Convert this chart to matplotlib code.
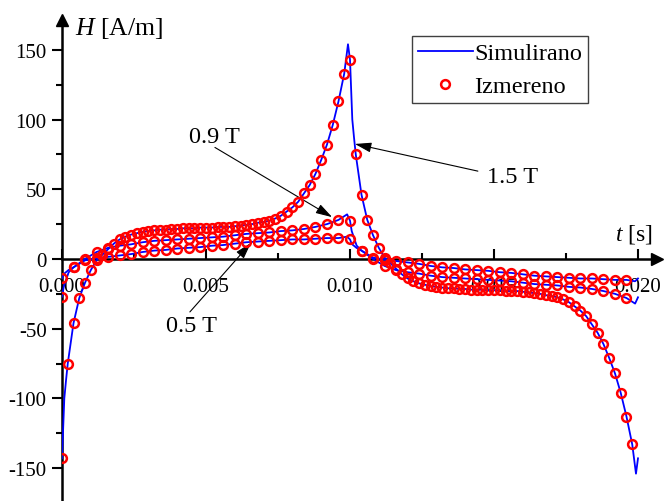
import numpy as np
import matplotlib
matplotlib.use("Agg")
import matplotlib.pyplot as plt

plt.rcParams['font.family'] = ['Liberation Serif', 'DejaVu Serif']
plt.rcParams['mathtext.fontset'] = 'custom'
plt.rcParams['mathtext.rm'] = 'Liberation Serif'
plt.rcParams['mathtext.it'] = 'Liberation Serif:italic'

# sampling steps of the measured points [s]
DT_15 = 0.0002
DT_LOW = 0.0004

# measured H [A/m], 1.5 T (one sample every 0.2 ms)
h15_meas = [-143, -75, -46, -28, -17, -8, -1, 3, 7, 11,
            14, 16, 17.5, 18.5, 19.5, 20, 20.5, 21, 21, 21.5,
            21.5, 22, 22, 22, 22.5, 22.5, 22.5, 23, 23, 23,
            23.5, 24, 24.5, 25, 26, 26.5, 27.5, 29, 31, 34,
            37, 41, 47, 53, 61, 71, 82, 96, 113, 133,
            143, 75, 46, 28, 17, 8, 1, -3, -7, -11,
            -14, -16, -17.5, -18.5, -19.5, -20, -20.5, -21, -21, -21.5,
            -21.5, -22, -22, -22, -22.5, -22.5, -22.5, -23, -23, -23,
            -23.5, -24, -24.5, -25, -26, -26.5, -27.5, -29, -31, -34,
            -37, -41, -47, -53, -61, -71, -82, -96, -113, -133]

# measured H [A/m], 0.9 T (one sample every 0.4 ms)
h09_meas = [-27, -6, 0, 5, 8, 9.5, 10.5, 12, 13, 13.5,
            14, 14.5, 15, 15.5, 16, 17, 18, 18.5, 19, 20,
            20.5, 21.5, 23, 25, 28, 27.5, 6, 0, -5, -8,
            -9.5, -10.5, -12, -13, -13.5, -14, -14.5, -15, -15.5, -16,
            -17, -18, -18.5, -19, -20, -20.5, -21.5, -23, -25, -28]

# measured H [A/m], 0.5 T
h05_meas = [-14, -6, -1, 0.5, 1.5, 2.5, 3.5, 5, 6, 6.5,
            7.5, 8, 8.5, 9.5, 10, 11, 12, 12.5, 13, 13.5,
            14, 14, 14.5, 15, 15, 14, 6, 1, -0.5, -1.5,
            -2.5, -3.5, -5, -6, -6.5, -7.5, -8, -8.5, -9.5, -10,
            -11, -12, -12.5, -13, -13.5, -14, -14, -14.5, -15, -15]

# extra simulated points around the switching peaks
t15_extra = [0.00008, 0.00014, 0.00993, 0.01008, 0.01014, 0.01993, 0.0200]
h15_extra = [-100, -87, 154, 100, 87, -154, -143]
t09_extra = [0.00006, 0.00023, 0.0099, 0.01006, 0.01023, 0.0199, 0.0200]
h09_extra = [-20, -9.6, 32, 20, 9.6, -32, -27.5]
t05_extra = [0.00006, 0.00023, 0.0099, 0.01006, 0.01023, 0.0199, 0.0200]
h05_extra = [-10.8, -7.9, 16, 10.8, 7.9, -16, -14]

curves = [
    (h15_meas, DT_15, t15_extra, h15_extra),
    (h09_meas, DT_LOW, t09_extra, h09_extra),
    (h05_meas, DT_LOW, t05_extra, h05_extra),
]

fig = plt.figure(figsize=(6.64, 5.02), dpi=100)
ax = fig.add_axes([62 / 664, 0, 595 / 664, 481 / 502])

for i, (h_meas, dt, t_ex, h_ex) in enumerate(curves):
    t_meas = np.arange(len(h_meas)) * dt
    t_sim = np.concatenate([t_meas, t_ex])
    h_sim = np.concatenate([h_meas, h_ex])
    order = np.argsort(t_sim)
    ax.plot(t_sim[order], h_sim[order], color='blue', lw=1.3, zorder=3,
            label='Simulirano' if i == 0 else None)
    ax.plot(t_meas, h_meas, linestyle='none', marker='o', mfc='none',
            mec='red', ms=6.3, mew=1.8, zorder=4,
            label='Izmereno' if i == 0 else None)

ax.set_xlim(0, 0.02066)
ax.set_ylim(-173.6, 171.4)

for s in ['top', 'right']:
    ax.spines[s].set_visible(False)
ax.spines['bottom'].set_position(('data', 0))
ax.spines['left'].set_linewidth(1.8)
ax.spines['bottom'].set_linewidth(1.8)

# axis arrow heads
ax.plot(1, 0, '>k', ms=8, transform=ax.get_yaxis_transform(), clip_on=False)
ax.plot(0, 1, '^k', ms=8, transform=ax.get_xaxis_transform(), clip_on=False)

ax.set_xticks([0, 0.005, 0.010, 0.015, 0.020])
ax.set_xticklabels(['0.000', '0.005', '0.010', '0.015', '0.020'])
ax.set_xticks([0.0025, 0.0075, 0.0125, 0.0175], minor=True)
ax.set_yticks([-150, -100, -50, 0, 50, 100, 150])
ax.set_yticklabels(['-150', '-100', '-50', '0', '50', '100', '150'])
ax.set_yticks([-125, -75, -25, 25, 75, 125], minor=True)

ax.tick_params(axis='x', which='both', direction='in', width=1.5,
               labelsize=15, pad=13)
ax.tick_params(axis='x', which='major', length=7)
ax.tick_params(axis='x', which='minor', length=4)
ax.tick_params(axis='y', which='both', direction='out', width=1.5,
               labelsize=15, pad=4)
ax.tick_params(axis='y', which='major', length=7)
ax.tick_params(axis='y', which='minor', length=4)
ax.set_axisbelow(True)

# axis labels
fig.text(75 / 664, (502 - 35) / 502, r'$H$ [A/m]', fontsize=18.5,
         ha='left', va='baseline')
fig.text(653 / 664, (502 - 241) / 502, r'$t$ [s]', fontsize=17,
         ha='right', va='baseline')

# annotations
arrow = dict(arrowstyle='-|>,head_length=1.0,head_width=0.3', color='black',
             lw=0.8, shrinkA=0, shrinkB=0)
ax.annotate('', xy=(0.00938, 30), xytext=(0.00531, 80), arrowprops=arrow)
ax.text(0.00528, 88, '0.9 T', fontsize=17.5, ha='center', va='center')
ax.annotate('', xy=(0.01017, 82.5), xytext=(0.01444, 63), arrowprops=arrow)
ax.text(0.01566, 59, '1.5 T', fontsize=17.5, ha='center', va='center')
ax.annotate('', xy=(0.00656, 11.5), xytext=(0.00444, -38), arrowprops=arrow)
ax.text(0.00451, -48, '0.5 T', fontsize=17.5, ha='center', va='center')

leg = ax.legend(loc='upper left', bbox_to_anchor=(412 / 664, 465 / 502),
                bbox_transform=fig.transFigure, borderaxespad=0,
                fontsize=17.5, handlelength=2.25, handletextpad=0.05,
                borderpad=0.25, labelspacing=0.45, fancybox=False,
                framealpha=1, edgecolor='#404040')
leg.get_frame().set_linewidth(1.0)
leg.set_zorder(5)

fig.savefig('out.png', dpi=100)
